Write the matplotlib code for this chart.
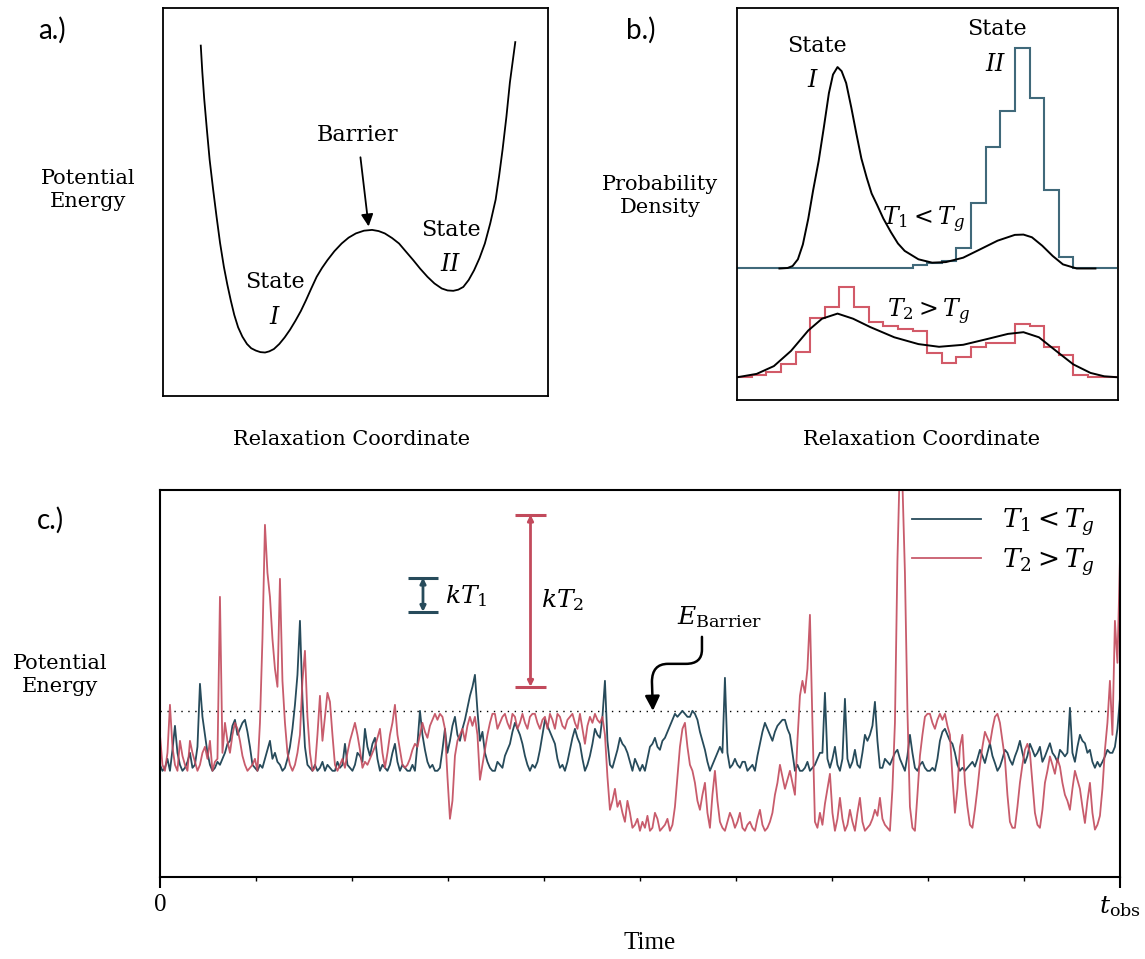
import matplotlib
matplotlib.use('Agg')
import matplotlib.pyplot as plt
import numpy as np
from matplotlib.path import Path
from matplotlib.patches import FancyArrowPatch

plt.rcParams['mathtext.fontset'] = 'dejavuserif'

SERIF = 'DejaVu Serif'
TIMES = 'Liberation Serif'
SANS = 'Lato'

BLUE = '#274b5b'
RED = '#c24a5c'
HBLUE = '#40697a'
HRED = '#d25a68'

# ── a.) double-well potential (relaxation coordinate, energy) ───────────
well_x = [0.098, 0.102, 0.107, 0.114, 0.121, 0.130, 0.139, 0.148, 0.158, 0.167,
          0.176, 0.185, 0.195, 0.206, 0.218, 0.229, 0.241, 0.253, 0.265, 0.276,
          0.288, 0.302, 0.316, 0.330, 0.344, 0.358, 0.371, 0.385, 0.399, 0.413,
          0.427, 0.445, 0.464, 0.482, 0.501, 0.522, 0.543, 0.560, 0.576, 0.595,
          0.613, 0.631, 0.650, 0.668, 0.687, 0.705, 0.724, 0.739, 0.754, 0.767,
          0.780, 0.794, 0.808, 0.822, 0.836, 0.850, 0.864, 0.873, 0.882, 0.892,
          0.901, 0.908, 0.915]
well_e = [0.903, 0.835, 0.765, 0.685, 0.609, 0.533, 0.462, 0.395, 0.333, 0.287,
          0.246, 0.209, 0.177, 0.153, 0.134, 0.123, 0.117, 0.113, 0.112, 0.115,
          0.121, 0.134, 0.151, 0.171, 0.194, 0.219, 0.246, 0.277, 0.307, 0.330,
          0.350, 0.373, 0.393, 0.408, 0.419, 0.426, 0.428, 0.425, 0.419, 0.407,
          0.393, 0.372, 0.350, 0.328, 0.307, 0.290, 0.277, 0.272, 0.271, 0.274,
          0.281, 0.299, 0.324, 0.355, 0.393, 0.445, 0.506, 0.567, 0.635, 0.720,
          0.808, 0.860, 0.912]

# ── b.) histograms (26 bins) and fitted densities ───────────────────────
bin_edges = np.arange(27)
hist_t1 = [0, 0, 0, 0, 0, 0, 0, 0, 0, 0, 0, 0, 3.0, 5.8, 7.5, 20, 65, 121, 157,
           220, 170, 78, 11, 0.7, 0, 0]
hist_t2 = [0, 2.0, 5.1, 12.9, 25.4, 59.7, 70.5, 90.2, 70.5, 55.3, 50.8, 48.5,
           45.8, 24.7, 14.6, 20.3, 29.8, 33.9, 33.9, 53.6, 50.8, 29.8, 22.0, 2.7,
           0, 0]
fit1_x = [2.9, 3.46, 3.8, 4.16, 4.5, 4.87, 5.2, 5.58, 5.93, 6.28, 6.56, 6.87, 7.15,
          7.46, 7.81, 8.16, 8.5, 8.87, 9.2, 9.58, 10.0, 10.52, 11.0, 11.46, 12.4,
          13.34, 14.28, 15.46, 16.64, 17.81, 18.99, 19.58, 20.16, 20.87, 21.58,
          22.28, 23.22, 24.5]
fit1_y = [0, 0.5, 2.5, 9.2, 24, 49.8, 78, 107.5, 140.7, 175.3, 193.9, 201.4, 197.3,
          185.4, 161.0, 134.6, 110, 90.5, 75, 63.4, 50, 36.3, 25, 17.6, 9.2,
          5.8, 6.4, 10.8, 19.3, 27.8, 33.6, 33.9, 31.2, 22.7, 12.5,
          4.1, 0, 0]
fit2_x = [0, 1.34, 2.52, 3.69, 4.87, 5.81, 6.87, 7.93, 9.11, 10.75, 12.4, 13.81,
          15.46, 17.11, 18.52, 19.58, 20.64, 21.81, 22.99, 24.16, 25.1, 26.05]
fit2_y = [0, 3.4, 11.2, 26.4, 46.8, 58.6, 63.7, 58.6, 50.2, 40.0, 33.2, 30.5,
          32.5, 38.3, 43.4, 45.1, 40.0, 26.4, 12.9, 4.4, 1.0, 0]
T1_BASE = 131.5
T2_BASE = 22.7

# ── c.) potential energy trajectories (barrier = 1) ─────────────────────
energy_t1 = [
    0.1, 0.0, 0.05, 0.2, 0.0, 0.35, 0.75, 0.3, 0.1, 0.0, 0.05, 0.15, 0.3, 0.05, 0.1, 0.4, 1.45, 0.9, 0.6, 0.3,
    0.1, 0.0, 0.05, 0.15, 0.1, 0.2, 0.3, 0.45, 0.5, 0.75, 0.85, 0.6, 0.7, 0.8, 0.85, 0.65, 0.4, 0.1, 0.05, 0.0,
    0.1, 0.05, 0.2, 0.35, 0.5, 0.2, 0.3, 0.15, 0.1, 0.0, 0.05, 0.2, 0.4, 0.7, 1.1, 1.6, 2.5, 1.2, 0.4, 0.1,
    0.05, 0.0, 0.1, 0.0, 0.05, 0.15, 0.0, 0.1, 0.05, 0.0, 0.0, 0.15, 0.05, 0.1, 0.45, 0.1, 0.05, 0.0, 0.1, 0.3,
    0.25, 0.15, 0.7, 0.4, 0.25, 0.45, 0.55, 0.2, 0.0, 0.1, 0.05, 0.0, 0.1, 0.3, 0.45, 0.15, 0.0, 0.1, 0.05, 0.0,
    0.0, 0.1, 0.0, 0.45, 1.0, 0.6, 0.35, 0.15, 0.05, 0.1, 0.0, 0.0, 0.05, 0.35, 0.7, 0.3, 0.5, 0.75, 0.9, 0.6,
    0.5, 0.7, 0.85, 1.05, 1.25, 1.4, 1.6, 1.0, 0.5, 0.65, 0.3, 0.15, 0.05, 0.0, 0.0, 0.15, 0.1, 0.05, 0.25, 0.35,
    0.45, 0.65, 0.8, 0.7, 0.6, 0.45, 0.25, 0.1, 0.0, 0.1, 0.05, 0.15, 0.35, 0.6, 0.85, 0.75, 0.65, 0.55, 0.45, 0.2,
    0.05, 0.1, 0.0, 0.15, 0.35, 0.55, 0.7, 0.55, 0.45, 0.2, 0.0, 0.1, 0.25, 0.45, 0.7, 0.6, 0.55, 0.9, 1.5, 0.5,
    0.1, 0.05, 0.2, 0.35, 0.55, 0.45, 0.4, 0.3, 0.15, 0.0, 0.2, 0.1, 0.0, 0.1, 0.0, 0.2, 0.4, 0.45, 0.55, 0.4,
    0.35, 0.5, 0.55, 0.65, 0.75, 0.85, 0.95, 0.9, 0.95, 1.0, 0.95, 0.9, 0.9, 1.0, 0.95, 0.85, 0.65, 0.5, 0.35, 0.15,
    0.0, 0.1, 0.2, 0.3, 0.4, 0.3, 1.55, 0.3, 0.05, 0.1, 0.2, 0.1, 0.05, 0.15, 0.15, 0.0, 0.05, 0.1, 0.0, 0.25,
    0.45, 0.65, 0.8, 0.7, 0.6, 0.5, 0.65, 0.75, 0.8, 0.85, 0.85, 0.7, 0.6, 0.3, 0.0, 0.1, 0.0, 0.0, 0.05, 0.15,
    0.0, 0.05, 0.1, 0.2, 0.3, 0.3, 1.3, 0.2, 0.05, 0.2, 0.4, 0.1, 0.0, 0.2, 1.2, 0.2, 0.05, 0.15, 0.35, 0.1,
    0.05, 0.3, 0.6, 0.5, 0.6, 0.75, 1.15, 0.5, 0.05, 0.05, 0.2, 0.15, 0.1, 0.2, 0.3, 0.35, 0.2, 0.1, 0.0, 0.25,
    0.6, 0.3, 0.05, 0.0, 0.1, 0.15, 0.05, 0.0, 0.0, 0.05, 0.0, 0.2, 0.5, 0.65, 0.7, 0.6, 0.5, 0.45, 0.3, 0.1,
    0.0, 0.05, 0.0, 0.05, 0.1, 0.15, 0.07, 0.2, 0.35, 0.25, 0.13, 0.3, 0.46, 0.25, 0.13, 0.0, 0.07, 0.2, 0.35, 0.3,
    0.18, 0.1, 0.24, 0.35, 0.5, 0.3, 0.13, 0.25, 0.45, 0.35, 0.24, 0.3, 0.4, 0.15, 0.24, 0.35, 0.46, 0.3, 0.24, 0.15,
    0.35, 0.3, 0.24, 0.3, 1.05, 0.3, 0.15, 0.4, 0.6, 0.5, 0.46, 0.3, 0.35, 0.15, 0.05, 0.15, 0.07, 0.15, 0.24, 0.35,
    0.3, 0.3, 0.4, 0.7, 1.2]
energy_t2 = [
    0.6, 0.1, 0.0, 0.3, 1.1, 0.4, 0.1, 0.0, 0.5, 0.25, 0.1, 0.0, 0.5, 0.3, 0.15, 0.0, 0.1, 0.3, 0.4, 0.2,
    0.5, 0.0, 0.15, 0.2, 2.9, 0.3, 0.8, 0.5, 0.3, 0.6, 0.8, 0.7, 0.5, 0.25, 0.1, 0.0, 0.05, 0.1, 0.2, 0.0,
    0.8, 2.2, 4.1, 3.3, 2.9, 2.2, 1.7, 1.4, 3.2, 1.5, 0.8, 0.3, 0.1, 0.0, 0.1, 0.3, 0.6, 1.5, 2.0, 0.9,
    0.3, 0.0, 0.05, 0.6, 1.25, 0.5, 0.9, 1.3, 1.15, 0.6, 0.1, 0.0, 0.1, 0.2, 0.05, 0.3, 0.5, 0.65, 0.8, 0.6,
    0.35, 0.05, 0.15, 0.1, 0.2, 0.3, 0.4, 0.55, 0.7, 0.3, 0.05, 0.3, 0.6, 0.8, 1.1, 0.6, 0.35, 0.1, 0.05, 0.1,
    0.2, 0.35, 0.45, 0.4, 0.6, 0.8, 0.65, 0.55, 0.75, 0.85, 0.95, 0.85, 0.95, 0.9, 0.7, -0.1, -0.8, -0.5, 0.25, 0.5,
    0.6, 0.7, 0.5, 0.75, 0.9, 0.75, 0.9, 0.6, -0.15, 0.1, 0.35, 0.6, 0.8, 0.95, 0.95, 0.7, 0.8, 0.9, 0.95, 0.8,
    0.7, 0.95, 0.9, 0.7, 0.8, 0.95, 0.8, 0.7, 0.9, 0.95, 0.95, 0.8, 0.7, 0.85, 0.9, 0.7, 0.95, 0.85, 0.7, 0.95,
    0.9, 0.75, 0.7, 0.85, 0.9, 0.95, 0.8, 0.7, 0.95, 0.7, 0.45, 0.75, 0.9, 0.8, 0.95, 0.85, 0.8, 0.9, 0.6, -0.1,
    -0.65, -0.5, -0.3, -0.6, -0.5, -0.7, -0.85, -0.5, -0.7, -0.95, -0.9, -0.8, -1.0, -0.85, -0.95, -0.75, -1.0, -0.95, -0.7, -0.8,
    -1.0, -0.95, -0.9, -0.8, -1.0, -0.9, -0.6, -0.1, 0.4, 0.7, 0.8, 0.4, 0.1, 0.0, -0.2, -0.5, -0.65, -0.4, -0.2, -0.7,
    -0.95, -0.4, 0.0, -0.5, -0.85, -0.95, -1.0, -0.85, -0.7, -0.8, -0.95, -0.85, -0.7, -0.95, -1.0, -0.9, -0.85, -0.95, -1.0, -0.8,
    -0.65, -0.9, -1.0, -0.95, -0.85, -0.7, -0.4, -0.2, 0.1, -0.1, -0.3, -0.15, 0.0, -0.2, -0.4, 0.5, 1.25, 1.5, 1.3, 1.7,
    2.6, 0.8, -0.85, -0.95, -0.7, -0.9, -0.55, -0.3, -0.05, -0.7, -1.0, -0.8, -0.45, -0.8, -1.0, -0.9, -0.65, -0.85, -1.0, -0.7,
    -0.45, -0.85, -1.0, -0.95, -0.9, -0.8, -0.65, -0.75, -0.45, -0.8, -0.9, -0.95, -1.0, -0.3, 0.8, 3.5, 5.2, 4.8, 3.3, 1.0,
    -0.6, -0.95, -1.0, -0.4, 0.25, 0.6, 0.9, 0.95, 0.95, 0.8, 0.7, 0.85, 0.95, 0.85, 0.95, 0.75, 0.6, -0.1, -0.7, -0.3,
    0.4, 0.6, -0.2, -0.6, -0.9, -0.95, -0.65, -0.3, 0.1, 0.4, 0.65, 0.55, 0.45, 0.7, 0.9, 0.95, 0.8, 0.5, 0.2, -0.4,
    -0.85, -0.95, -0.95, -0.6, -0.2, 0.1, 0.35, 0.45, 0.3, -0.2, -0.7, -0.9, -0.95, -0.65, -0.2, 0.0, 0.24, 0.1, -0.05, 0.2,
    0.07, -0.2, -0.4, -0.5, -0.65, -0.3, 0.0, -0.15, -0.3, -0.6, -0.87, -0.5, -0.2, -0.7, -0.98, -0.9, -0.75, -0.3, 0.35, 0.8,
    1.5, 0.6, 2.5, 1.8, 3.5]
time = np.linspace(0, 1, len(energy_t1))
E_BARRIER = 1.0

fig = plt.figure(figsize=(11.45, 9.59), dpi=100)

# ═══ a.) ════════════════════════════════════════════════════════════════
ax_a = fig.add_axes([0.1424, 0.5871, 0.3362, 0.4046])
ax_a.plot(well_x, well_e, color='black', lw=1.3)
ax_a.set_xlim(0, 1)
ax_a.set_ylim(0, 1)
ax_a.set_xticks([])
ax_a.set_yticks([])
for sp in ax_a.spines.values():
    sp.set_linewidth(1.3)
ax_a.annotate('Barrier', xy=(0.534, 0.437), xytext=(0.506, 0.672),
              ha='center', va='center', family=SERIF, fontsize=16,
              arrowprops=dict(arrowstyle='-|>', color='black', lw=1.3,
                              mutation_scale=18, shrinkA=6, shrinkB=0))
ax_a.text(0.29, 0.294, 'State', ha='center', va='center', family=SERIF, fontsize=16)
ax_a.text(0.29, 0.203, '$I$', ha='center', va='center', fontsize=17)
ax_a.text(0.747, 0.428, 'State', ha='center', va='center', family=SERIF, fontsize=16)
ax_a.text(0.747, 0.341, '$II$', ha='center', va='center', fontsize=17)

# ═══ b.) ════════════════════════════════════════════════════════════════
ax_b = fig.add_axes([0.6437, 0.5829, 0.3328, 0.4088])
ax_b.stairs(np.array(hist_t1) + T1_BASE, bin_edges, baseline=T1_BASE,
            color=HBLUE, lw=1.5)
ax_b.plot(fit1_x, np.array(fit1_y) + T1_BASE, color='black', lw=1.4)
ax_b.stairs(np.array(hist_t2) + T2_BASE, bin_edges, baseline=T2_BASE,
            color=HRED, lw=1.5)
ax_b.plot(fit2_x, np.array(fit2_y) + T2_BASE, color='black', lw=1.4)
ax_b.set_xlim(0, 26.05)
ax_b.set_ylim(0, 392)
ax_b.set_xticks([])
ax_b.set_yticks([])
for sp in ax_b.spines.values():
    sp.set_linewidth(1.3)
ax_b.text(5.46, 354, 'State', ha='center', va='center', family=SERIF, fontsize=16)
ax_b.text(5.2, 320, '$I$', ha='center', va='center', fontsize=17)
ax_b.text(17.8, 371, 'State', ha='center', va='center', family=SERIF, fontsize=16)
ax_b.text(17.7, 336, '$II$', ha='center', va='center', fontsize=17)
ax_b.text(12.75, 180, r'$T_1 < T_g$', ha='center', va='center', fontsize=17)
ax_b.text(13.1, 88, r'$T_2 > T_g$', ha='center', va='center', fontsize=17)

# ═══ c.) ════════════════════════════════════════════════════════════════
ax_c = fig.add_axes([0.1397, 0.0855, 0.8384, 0.4035])
ax_c.plot(time, energy_t1, color=BLUE, lw=1.3, label=r'$T_1 < T_g$')
ax_c.plot(time, energy_t2, color=RED, lw=1.3, alpha=0.9, label=r'$T_2 > T_g$')
ax_c.axhline(E_BARRIER, color='black', lw=1.0, ls=(0, (1, 4)), zorder=1)
ax_c.set_xlim(0, 1)
ax_c.set_ylim(-1.77, 4.68)
ax_c.set_yticks([])
ax_c.set_xticks([0, 1])
ax_c.set_xticklabels(['0', r'$t_{\rm obs}$'])
ax_c.set_xticks(np.arange(1, 10) / 10, minor=True)
ax_c.tick_params(axis='x', which='major', length=8, width=1.5, labelsize=18, pad=4)
ax_c.tick_params(axis='x', which='minor', length=3, width=1.0)
ax_c.get_xticklabels()[0].set_family(TIMES)
for sp in ax_c.spines.values():
    sp.set_linewidth(1.5)

# kT scale bars
ax_c.annotate('', xy=(0.274, 3.22), xytext=(0.274, 2.65),
              arrowprops=dict(arrowstyle='<|-|>', color=BLUE, lw=2,
                              mutation_scale=8, shrinkA=0, shrinkB=0))
ax_c.hlines([3.22, 2.65], 0.258, 0.290, color=BLUE, lw=2.2)
ax_c.text(0.297, 2.92, r'$kT_1$', ha='left', va='center', fontsize=18)
ax_c.annotate('', xy=(0.386, 4.27), xytext=(0.386, 1.4),
              arrowprops=dict(arrowstyle='<|-|>', color=RED, lw=2,
                              mutation_scale=8, shrinkA=0, shrinkB=0))
ax_c.hlines([4.27, 1.4], 0.370, 0.402, color=RED, lw=2.2)
ax_c.text(0.397, 2.85, r'$kT_2$', ha='left', va='center', fontsize=18)

# E_barrier label with curved arrow
ax_c.text(0.583, 2.57, r'$E_{\mathrm{Barrier}}$', ha='center', va='center', fontsize=18)
arrow_path = Path(
    [(0.5646, 2.233), (0.5646, 2.02), (0.5646, 1.783), (0.5479, 1.783),
     (0.5292, 1.783), (0.5125, 1.783), (0.5125, 1.483), (0.5135, 1.0)],
    [Path.MOVETO, Path.LINETO, Path.CURVE3, Path.CURVE3,
     Path.LINETO, Path.CURVE3, Path.CURVE3, Path.LINETO])
ax_c.add_patch(FancyArrowPatch(path=arrow_path, arrowstyle='-|>', color='black',
                               lw=1.8, mutation_scale=22, transform=ax_c.transData))

ax_c.legend(loc='upper right', bbox_to_anchor=(0.985, 0.985), frameon=False,
            fontsize=19, handlelength=2.6, labelspacing=0.3, borderaxespad=0)

# ── outside labels ─────────────────────────────────────────────────────
fig.text(0.0454, 0.9687, 'a.)', family=SANS, fontsize=20, ha='center', va='center')
fig.text(0.5598, 0.9687, 'b.)', family=SANS, fontsize=20, ha='center', va='center')
fig.text(0.0437, 0.4578, 'c.)', family=SANS, fontsize=20, ha='center', va='center')
fig.text(0.0769, 0.802, 'Potential\nEnergy', family=SERIF, fontsize=15,
         ha='center', va='center', linespacing=1.3)
fig.text(0.5764, 0.7956, 'Probability\nDensity', family=SERIF, fontsize=15,
         ha='center', va='center', linespacing=1.3)
fig.text(0.3074, 0.5412, 'Relaxation Coordinate', family=SERIF, fontsize=15,
         ha='center', va='center')
fig.text(0.8052, 0.5412, 'Relaxation Coordinate', family=SERIF, fontsize=15,
         ha='center', va='center')
fig.text(0.0524, 0.2962, 'Potential\nEnergy', family=SERIF, fontsize=15,
         ha='center', va='center', linespacing=1.3)
fig.text(0.5677, 0.0167, 'Time', family=TIMES, fontsize=18, ha='center', va='center')

fig.savefig('out.png', dpi=100, facecolor='white')
